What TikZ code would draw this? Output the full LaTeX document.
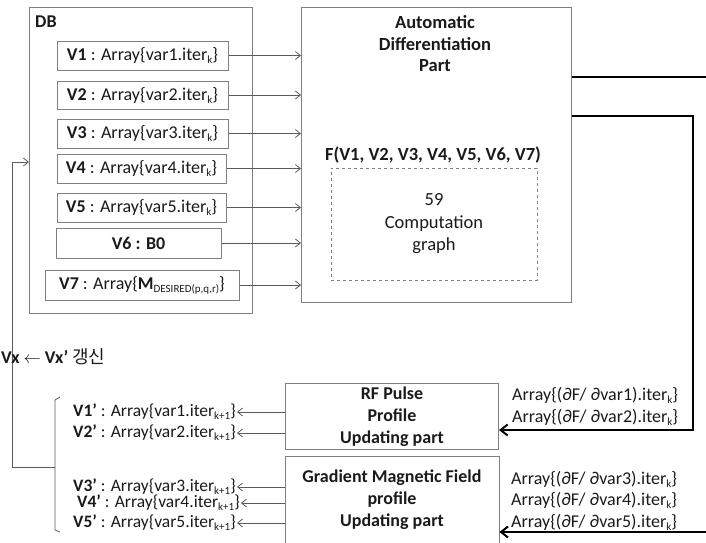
\documentclass[tikz,border=0pt]{standalone}
\usepackage{fontspec}
\setmainfont{Carlito}
\newfontfamily\krfont{Noto Sans CJK KR}
\usetikzlibrary{arrows.meta}
\definecolor{frm}{HTML}{808080}
\definecolor{arr}{HTML}{5A5A5A}
\definecolor{txt}{HTML}{1A1A1A}
\newcommand\sbs[1]{\raisebox{-0.35ex}{\fontsize{11}{11}\selectfont #1}}
\tikzset{
  frame/.style={draw=frm, line width=1pt},
  vbox/.style={frame, inner sep=0pt, text=txt},
  lab/.style={inner sep=1pt, text=txt},
  thinarr/.style={draw=arr, line width=0.8pt, -{Straight Barb[length=5pt,width=8pt]}},
  thinline/.style={draw=arr, line width=0.8pt},
  thickline/.style={draw=black, line width=2pt},
  thickarr/.style={draw=black, line width=2pt, -{Straight Barb[length=7pt,width=11pt]}},
}
\begin{document}
\begin{tikzpicture}[x=1pt,y=-1pt, font=\fontsize{18}{21}\selectfont]
\useasboundingbox (0,0) rectangle (706,542);
% DB
\node[frame, anchor=north west, minimum width=223, minimum height=306] (db) at (29,7) {};
\node[lab, anchor=west, font=\fontsize{18}{21}\selectfont\bfseries] (dbl) at (34,22) {DB};
\node[vbox, minimum width=171, minimum height=29] (v1) at (142.5,55.5) {\textbf{V1} : Array\{var1.iter\sbs{k}\}};
\node[vbox, minimum width=171, minimum height=28] (v2) at (142.5,95) {\textbf{V2} : Array\{var2.iter\sbs{k}\}};
\node[vbox, minimum width=171, minimum height=29] (v3) at (142.5,133.5) {\textbf{V3} : Array\{var3.iter\sbs{k}\}};
\node[vbox, minimum width=169, minimum height=29] (v4) at (141.5,168.5) {\textbf{V4} : Array\{var4.iter\sbs{k}\}};
\node[vbox, minimum width=169, minimum height=29] (v5) at (141.5,207.5) {\textbf{V5} : Array\{var5.iter\sbs{k}\}};
\node[vbox, minimum width=165, minimum height=30] (v6) at (138.5,243) {\textbf{V6 : B0}};
\node[vbox, minimum width=194, minimum height=30] (v7) at (142,285) {\textbf{V7} : Array\{\textbf{M}\sbs{DESIRED(p,q,r)}\}};
% AD
\node[frame, anchor=north west, minimum width=270, minimum height=295] (ad) at (301,7) {};
\node[lab, align=center, font=\fontsize{18.5}{21.5}\selectfont\bfseries] (adt) at (435,44) {Automatic\\Differentiation\\Part};
\node[lab, font=\fontsize{18.5}{21}\selectfont\bfseries] (fx) at (433,155) {F(V1, V2, V3, V4, V5, V6, V7)};
\node[draw=frm, dashed, line width=0.8pt, minimum width=206, minimum height=112, align=center, text=txt, font=\fontsize{18.5}{22.5}\selectfont] (cg) at (434,224) {59\\Computation\\graph};
\foreach \v in {v1,v2,v3,v4,v5,v6,v7}{
  \draw[thinarr] (\v.east) -- (\v.east -| ad.west);
}
% right side
\coordinate (o1) at (706,77);
\draw[thickline] (ad.east |- o1) -- (o1);
\coordinate (c2) at (693,116);
\coordinate (c3) at (693,430);
% RF box
\node[frame, anchor=north west, minimum width=213, minimum height=65, align=center, text=txt, font=\fontsize{18}{22}\selectfont\bfseries] (rf) at (285,383) {RF Pulse\\Profile\\Updating part};
\draw[thickarr] (ad.east |- c2) -- (c2) -- (c3) -- (rf.east |- c3);
% GMF box
\node[anchor=north west, minimum width=214, minimum height=100, inner sep=0pt] (gmf) at (285,456) {};
\draw[frame] (gmf.south west) -- (gmf.north west) -- (gmf.north east) -- (gmf.south east);
\node[lab, align=center, font=\fontsize{18}{22}\selectfont\bfseries] (gmft) at (392,499.5) {Gradient Magnetic Field\\profile\\Updating part};
\coordinate (o2) at (706,532);
\draw[thickarr] (o2) -- (gmf.east |- o2);
% gradient labels
\node[lab, anchor=west] (g1) at (511,395) {Array\{(∂F/ ∂var1).iter\sbs{k}\}};
\node[lab, anchor=west] (g2) at (511,417) {Array\{(∂F/ ∂var2).iter\sbs{k}\}};
\node[lab, anchor=west] (g3) at (510,479) {Array\{(∂F/ ∂var3).iter\sbs{k}\}};
\node[lab, anchor=west] (g4) at (510,500) {Array\{(∂F/ ∂var4).iter\sbs{k}\}};
\node[lab, anchor=west] (g5) at (510,522) {Array\{(∂F/ ∂var5).iter\sbs{k}\}};
% updated values
\begin{scope}[font=\fontsize{17.5}{21}\selectfont]
\node[lab, anchor=west] (p1) at (72,412) {\textbf{V1’} : Array\{var1.iter\sbs{k+1}\}};
\node[lab, anchor=west] (p2) at (72,433) {\textbf{V2’} : Array\{var2.iter\sbs{k+1}\}};
\node[lab, anchor=west] (p3) at (72,487) {\textbf{V3’} : Array\{var3.iter\sbs{k+1}\}};
\node[lab, anchor=west] (p4) at (76,503) {\textbf{V4’} : Array\{var4.iter\sbs{k+1}\}};
\node[lab, anchor=west] (p5) at (72,523) {\textbf{V5’} : Array\{var5.iter\sbs{k+1}\}};
\end{scope}
\foreach \p in {p1,p2}{ \draw[thinarr] (rf.west |- \p) -- (\p.east); }
\foreach \p in {p3,p4,p5}{ \draw[thinarr] (gmf.west |- \p) -- (\p.east); }
% bracket and feedback
\coordinate (bt0) at (60,397);
\coordinate (bt) at (55,400);
\coordinate (bb) at (55,530);
\coordinate (bb0) at (60,532);
\draw[thinline] (bt0) -- (bt) -- (bb) -- (bb0);
\coordinate (fb) at (55,467);
\coordinate (fl) at (12,467);
\coordinate (fi) at (12,162);
\draw[thinarr] (fb) -- (fl) -- (fi) -- (fi -| db.west);
\node[lab, anchor=west] (upd) at (0,357) {\textbf{Vx} $\leftarrow$ \textbf{Vx’} {\krfont 갱신}};
\end{tikzpicture}
\end{document}
